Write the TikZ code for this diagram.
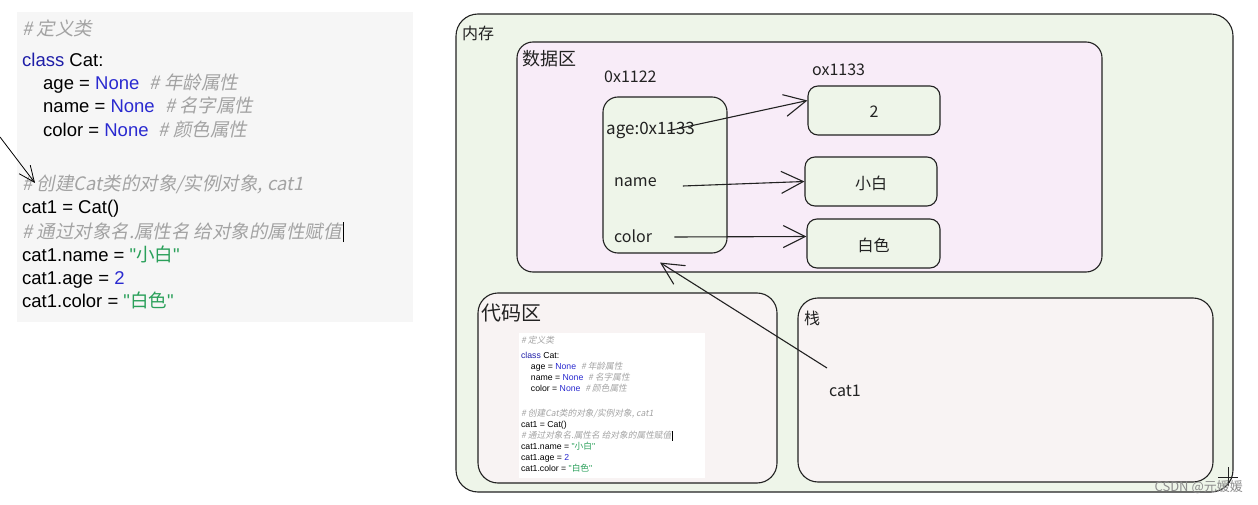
\documentclass[tikz,border=0pt]{standalone}
\usepackage{fontspec}
\setmainfont{Liberation Sans}
\newfontfamily\qfont[Ligatures=TeXOff]{Liberation Sans}
\newfontfamily\cjk{Noto Sans CJK SC}
\newfontfamily\cjkit[FakeSlant=0.2]{Noto Sans CJK SC}
\usetikzlibrary{arrows.meta}
\definecolor{kw}{HTML}{1E1EA8}
\definecolor{nonec}{HTML}{2A2AD0}
\definecolor{strc}{HTML}{2AA05A}
\definecolor{com}{HTML}{A3A3A3}
\definecolor{memfill}{HTML}{EEF5E9}
\definecolor{datafill}{HTML}{F8ECF8}
\definecolor{areafill}{HTML}{F8F3F3}
\definecolor{panelgray}{HTML}{F6F6F6}
\definecolor{ink}{HTML}{222222}
\tikzset{
  code/.style={anchor=base west, inner sep=0pt, text=black, font=\fontsize{18.5}{20}\selectfont},
  mbox/.style={draw=ink, line width=1.1pt, rounded corners=#1},
  mbox/.default=15pt,
  hand/.style={inner sep=0pt, text=ink, font=\cjk\fontsize{16}{18}\selectfont},
  harrow/.style={draw=ink, line width=1.1pt, -{Straight Barb[length=22pt,width=22pt,line width=1.1pt]}},
}
\newcommand\cm{\cjkit\color{com}}
\newcommand\dq{{\qfont"}}
\newcommand\codepanel[1]{%
  \fill[#1] (17,12) rectangle (413,322);
  \node[code] (l1) at (22,36) {{\cm\# 定义类}};
  \node[code] (l2) at (22,67) {\textcolor{kw}{class} Cat:};
  \node[code] (l3) at (43,90) {age = \textcolor{nonec}{None}\ \ {\cm\# 年龄属性}};
  \node[code] (l4) at (43,113) {name = \textcolor{nonec}{None}\ \ {\cm\# 名字属性}};
  \node[code] (l5) at (43,137) {color = \textcolor{nonec}{None}\ \ {\cm\# 颜色属性}};
  \node[code] (l6) at (22,191) {{\cm\# 创建Cat类的对象/实例对象, cat1}};
  \node[code] (l7) at (22,214) {cat1 = Cat()};
  \node[code] (l8) at (22,238) {{\cm\# 通过对象名.属性名 给对象的属性赋值}};
  \draw[black, line width=0.8pt] (l8.base east) ++(1,4) -- ++(0,-20);
  \node[code] (l9) at (22,261) {cat1.name = \textcolor{strc}{\dq{\cjk 小白}\dq}};
  \node[code] (l10) at (22,284) {cat1.age = \textcolor{nonec}{2}};
  \node[code] (l11) at (22,307) {cat1.color = \textcolor{strc}{\dq{\cjk 白色}\dq}};
}
\begin{document}
\begin{tikzpicture}[x=1pt,y=-1pt]
\useasboundingbox (0,0) rectangle (1258,505);
\fill[white] (0,0) rectangle (1258,505);
% left code panel
\begin{scope}[name prefix=big-]
\codepanel{panelgray}
\end{scope}
\coordinate (lstart) at (0,137);
\draw[black, line width=0.8pt, -{Straight Barb[length=16pt,width=14pt,line width=0.8pt]}] (lstart) -- ([xshift=13pt,yshift=8pt]big-l6.base west);
% memory
\node[mbox=22pt, fill=memfill, minimum width=777pt, minimum height=478pt] (mem) at (844.5,253) {};
\node[hand, anchor=west] (memlbl) at (462,33) {内存};
\node[mbox=16pt, fill=datafill, minimum width=585pt, minimum height=230pt] (data) at (809.5,157) {};
\node[hand, anchor=west, font=\cjk\fontsize{18}{20}\selectfont] (datalbl) at (522,59) {数据区};
\node[hand, anchor=west] (a1122) at (604,77) {0x1122};
\node[hand, anchor=west] (a1133) at (812,70) {ox1133};
\node[mbox=15pt, fill=memfill, minimum width=124pt, minimum height=156pt] (obj) at (665,175) {};
\node[hand, anchor=west, font=\cjk\fontsize{17}{18}\selectfont] (fage) at (606,130) {age:0x1133};
\node[hand, anchor=west] (fname) at (614,182) {name};
\node[hand, anchor=west] (fcolor) at (614,236) {color};
\node[mbox=10pt, fill=memfill, minimum width=132pt, minimum height=49pt] (v2) at (874,110.5) {};
\node[hand] (v2t) at (874,112) {2};
\node[mbox=10pt, fill=memfill, minimum width=132pt, minimum height=49pt] (vname) at (871,181.5) {};
\node[hand] (vnamet) at (871,183) {小白};
\node[mbox=10pt, fill=memfill, minimum width=133pt, minimum height=49pt] (vcolor) at (873.5,243.5) {};
\node[hand] (vcolort) at (873.5,245) {白色};
\draw[harrow] ([xshift=-28pt,yshift=-1pt]fage.east) -- ([yshift=10pt]v2.west);
\draw[harrow] ([xshift=26pt,yshift=-4pt]fname.east) -- (vname.west);
\draw[harrow] ([xshift=22pt,yshift=-1pt]fcolor.east) -- ([yshift=7pt]vcolor.west);
% code area
\node[mbox=20pt, fill=areafill, minimum width=299pt, minimum height=190pt] (codearea) at (627.5,388) {};
\node[hand, anchor=west, font=\cjk\fontsize{20}{22}\selectfont] (codelbl) at (481,313) {代码区};
\begin{scope}[shift={(510.66,326.9)}, scale=0.47, transform shape, name prefix=small-]
\codepanel{white}
\end{scope}
% stack
\node[mbox=20pt, fill=areafill, minimum width=415pt, minimum height=184pt] (stack) at (1005.5,390) {};
\node[hand, anchor=west] (stacklbl) at (804,318) {栈};
\node[hand, anchor=west] (cat1) at (829,391) {cat1};
\coordinate (cstart) at (827,368);
\draw[harrow] (cstart) -- ([xshift=-5pt,yshift=-9pt]obj.south);
% marks
\draw[ink, line width=1pt] (1218,477) -- (1238,477) (1228,467) -- (1228,486);
\node[inner sep=0pt, anchor=east, text=black!45, font=\cjk\fontsize{13}{14}\selectfont] (wm) at (1243,487) {CSDN @元媛媛};
\end{tikzpicture}
\end{document}
